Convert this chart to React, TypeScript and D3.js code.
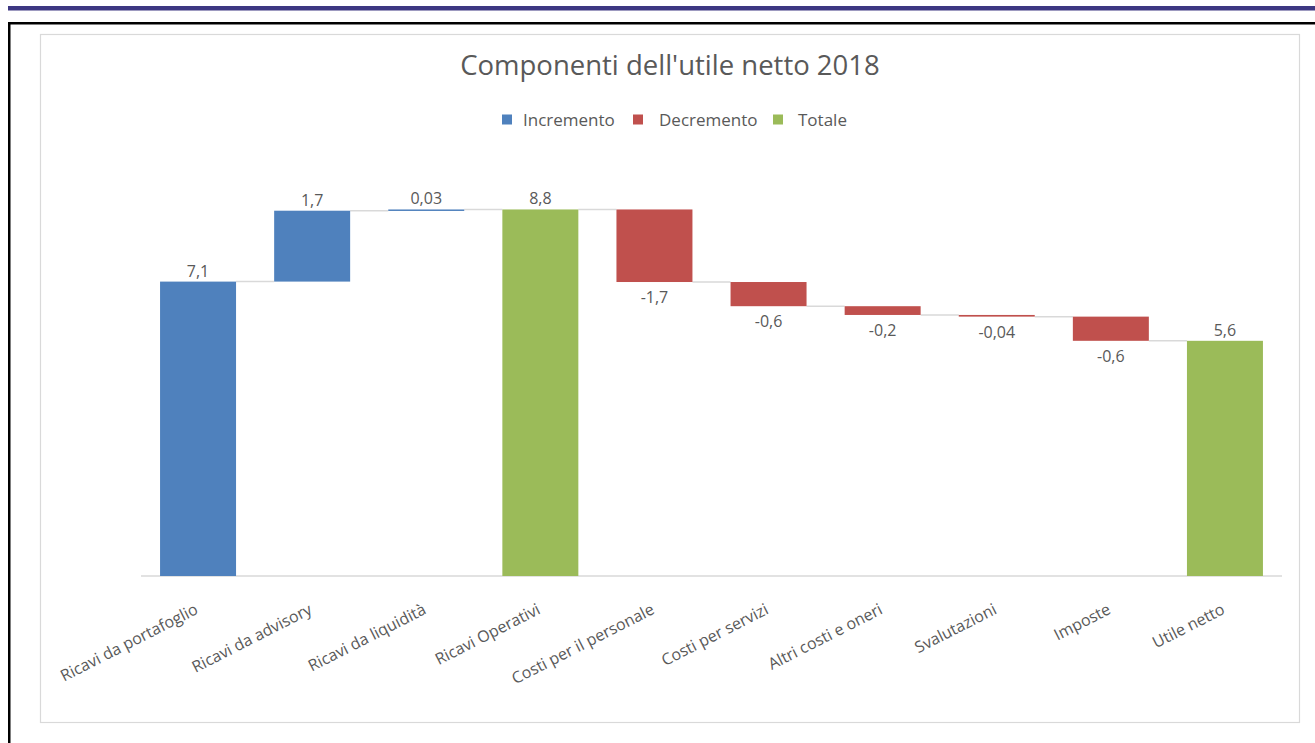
import React from "react";
import * as d3 from "d3";

const title = "Componenti dell'utile netto 2018";
const categories = [
  "Ricavi da portafoglio",
  "Ricavi da advisory",
  "Ricavi da liquidità",
  "Ricavi Operativi",
  "Costi per il personale",
  "Costi per servizi",
  "Altri costi e oneri",
  "Svalutazioni",
  "Imposte",
  "Utile netto",
];
// delta values; null for totals (computed from running sum)
const deltas: (number | null)[] = [7.06, 1.7, 0.03, null, -1.74, -0.58, -0.21, -0.04, -0.58, null];
const legendItems = ["Incremento", "Decremento", "Totale"];
const colors = { Incremento: "#4f81bd", Decremento: "#c0504d", Totale: "#9bbb59" } as Record<string, string>;

const FONT = "'Open Sans', 'Noto Sans', sans-serif";
const TEXT = "#595959";

function fmt(v: number) {
  const a = Math.abs(v);
  const s = a < 0.1 ? v.toFixed(2) : v.toFixed(1);
  return s.replace(".", ",");
}

export default function App() {
  const x = d3
    .scaleBand<string>()
    .domain(categories)
    .range([141, 1282])
    .paddingInner(0.334)
    .paddingOuter(0.167);
  const y = d3.scaleLinear().domain([0, 10]).range([576, 159]);

  let run = 0;
  const bars = categories.map((c, i) => {
    const d = deltas[i];
    if (d === null) {
      return { c, type: "Totale", y0: 0, y1: run, value: run, level: run };
    }
    const start = run;
    run += d;
    return {
      c,
      type: d >= 0 ? "Incremento" : "Decremento",
      y0: start,
      y1: run,
      value: d,
      level: run,
    };
  });

  const bw = x.bandwidth();

  return (
    <svg
      width={1315}
      height={743}
      style={{ position: "fixed", left: 0, top: 0, background: "#fff" }}
      fontFamily={FONT}
    >
      <rect x={0} y={0} width={1315} height={743} fill="#fff" />
      {/* top decorative line */}
      <rect x={8} y={6} width={1307} height={4.5} fill="#3d3782" />
      {/* black frame */}
      <rect x={8} y={22} width={1307} height={2.5} fill="#000" />
      <rect x={8} y={22} width={2.5} height={721} fill="#000" />
      {/* chart area border */}
      <rect x={40.5} y={34.5} width={1259} height={688} fill="#fff" stroke="#d9d9d9" strokeWidth={1.2} />

      <text x={670} y={75} textAnchor="middle" fontSize={27.5} fill={TEXT}>
        {title}
      </text>

      {/* legend */}
      {(() => {
        const pos = [
          { sx: 502, tx: 523 },
          { sx: 633, tx: 659 },
          { sx: 773, tx: 798 },
        ];
        return legendItems.map((l, i) => (
          <g key={l}>
            <rect x={pos[i].sx} y={114.5} width={10} height={10} fill={colors[l]} />
            <text x={pos[i].tx} y={125.5} fontSize={17} fill={TEXT}>
              {l}
            </text>
          </g>
        ));
      })()}

      {/* axis line */}
      <line x1={141} x2={1282} y1={y(0)} y2={y(0)} stroke="#d9d9d9" strokeWidth={1.5} />

      {/* connectors */}
      {bars.slice(0, -1).map((b, i) => {
        const next = bars[i + 1];
        const x1 = (x(b.c) as number) + bw;
        const x2 = x(next.c) as number;
        return (
          <line key={"c" + i} x1={x1} x2={x2} y1={y(b.level)} y2={y(b.level)} stroke="#d9d9d9" strokeWidth={1.5} />
        );
      })}

      {/* bars */}
      {bars.map((b) => {
        const top = y(Math.max(b.y0, b.y1));
        const bot = y(Math.min(b.y0, b.y1));
        return (
          <rect
            key={b.c}
            x={x(b.c)}
            y={top}
            width={bw}
            height={Math.max(1.5, bot - top)}
            fill={colors[b.type]}
          />
        );
      })}

      {/* data labels */}
      {bars.map((b) => {
        const cx = (x(b.c) as number) + bw / 2;
        const neg = b.type === "Decremento";
        const yy = neg ? y(b.y1) + 21 : y(b.y1) - 5;
        return (
          <text key={"l" + b.c} x={cx} y={yy} textAnchor="middle" fontSize={16} fill={TEXT}>
            {fmt(b.value)}
          </text>
        );
      })}

      {/* category labels */}
      {categories.map((c) => {
        const cx = (x(c) as number) + bw / 2;
        return (
          <text
            key={"t" + c}
            transform={`translate(${cx + 1},${613}) rotate(-27)`}
            textAnchor="end"
            fontSize={16}
            fill={TEXT}
          >
            {c}
          </text>
        );
      })}
    </svg>
  );
}
